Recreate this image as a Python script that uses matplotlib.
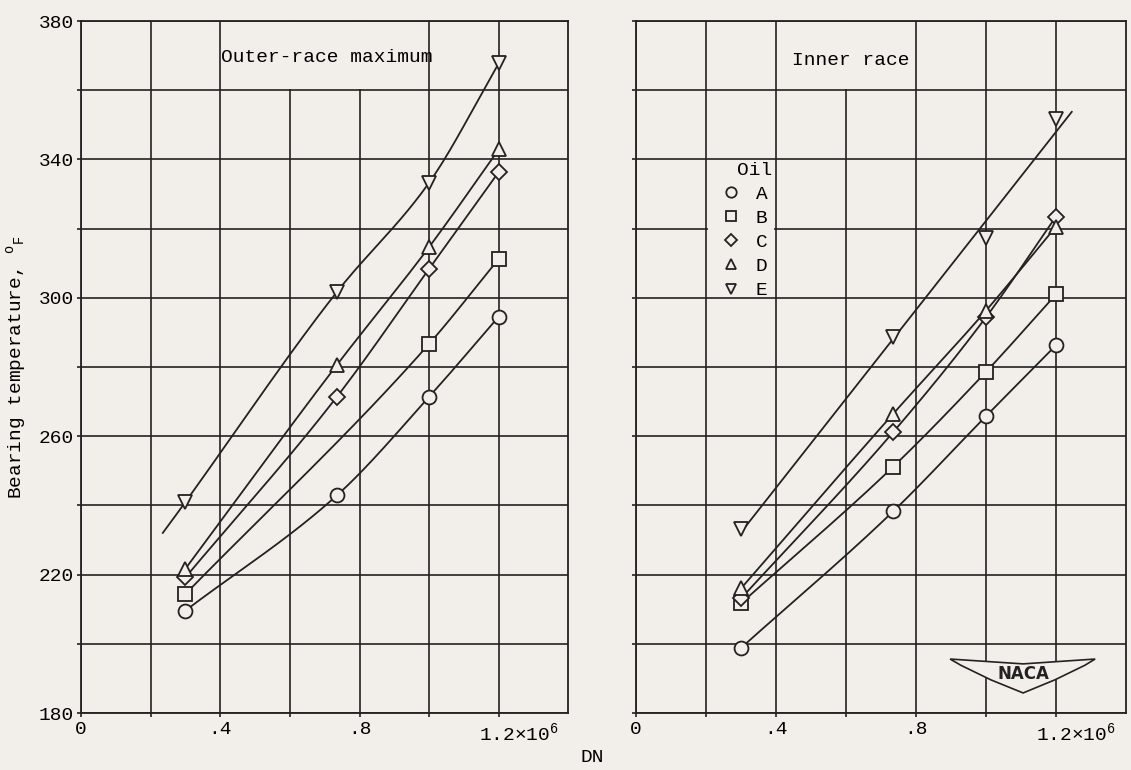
import numpy as np
import matplotlib.pyplot as plt
import matplotlib.transforms as mtransforms
from matplotlib.patches import Rectangle, Polygon

# typewriter look
plt.rcParams['font.family'] = ['Liberation Mono', 'DejaVu Sans Mono']
plt.rcParams['mathtext.fontset'] = 'custom'
plt.rcParams['mathtext.rm'] = 'Liberation Mono'
plt.rcParams['mathtext.it'] = 'Liberation Mono:italic'
plt.rcParams['font.size'] = 14

paper = '#f2efea'
ink = '#222222'

# DN values, x10^6
dn = [0.30, 0.735, 1.0, 1.2]
dn_outer_b = [0.30, 1.0, 1.2]

oils = ['A', 'B', 'C', 'D', 'E']
markers = ['o', 's', 'D', '^', 'v']
msizes = [10, 9.5, 8.5, 10, 10]

# outer-race maximum temperature, deg F
outer_a = [209.6, 242.9, 271.4, 294.6]
outer_b = [214.4, 286.7, 311.3]
outer_c = [219.2, 271.4, 308.4, 336.4]
outer_d = [221.7, 280.6, 314.7, 342.9]
outer_e = [241.0, 301.7, 333.3, 367.8]

# inner race temperature, deg F
inner_a = [198.8, 238.3, 265.8, 286.3]
inner_b = [211.7, 251.2, 278.6, 301.0]
inner_c = [213.1, 261.2, 294.4, 323.5]
inner_d = [216.0, 266.5, 296.3, 320.6]
inner_e = [233.1, 288.6, 317.3, 351.6]

# faired curves: extent, and whether the curve is a straight fit
outer_start = [0.30, 0.30, 0.30, 0.30, 0.235]
outer_end = [1.2, 1.2, 1.2, 1.2, 1.2]
outer_straight = [False, False, False, False, False]
inner_start = [0.30, 0.30, 0.30, 0.30, 0.30]
inner_end = [1.2, 1.2, 1.2, 1.2, 1.245]
inner_straight = [False, False, False, False, True]

x_ticks = [0, 0.4, 0.8, 1.2]
x_labels = ['0', '.4', '.8', r'1.2$\times$10$^6$']
y_ticks = [180, 220, 260, 300, 340, 380]


def faired(x, y, xx):
    # monotone cubic through the points (Fritsch-Carlson slopes)
    x = np.asarray(x, float)
    y = np.asarray(y, float)
    h = np.diff(x)
    s = np.diff(y) / h
    d = np.empty_like(x)
    d[0], d[-1] = s[0], s[-1]
    for i in range(1, len(x) - 1):
        w1 = 2 * h[i] + h[i - 1]
        w2 = h[i] + 2 * h[i - 1]
        d[i] = (w1 + w2) / (w1 / s[i - 1] + w2 / s[i])
    k = np.clip(np.searchsorted(x, xx) - 1, 0, len(x) - 2)
    t = (xx - x[k]) / h[k]
    h00 = 2 * t**3 - 3 * t**2 + 1
    h10 = t**3 - 2 * t**2 + t
    h01 = -2 * t**3 + 3 * t**2
    h11 = t**3 - t**2
    return h00 * y[k] + h10 * h[k] * d[k] + h01 * y[k + 1] + h11 * h[k] * d[k + 1]


fig = plt.figure(figsize=(11.31, 7.70), dpi=100, facecolor=paper)
ax1 = fig.add_axes([0.0716, 0.074, 0.431, 0.8987])
ax2 = fig.add_axes([0.5623, 0.074, 0.4333, 0.8987])


def draw_panel(ax, xs, ys, starts, ends, straight):
    for x, y, m, ms, s, e, st, lab in zip(xs, ys, markers, msizes, starts, ends,
                                           straight, oils):
        xx = np.linspace(s, e, 200)
        if st:
            yy = np.polyval(np.polyfit(x, y, 1), xx)
        else:
            yy = faired(x, y, xx)
        ax.plot(xx, yy, color=ink, lw=1.3, zorder=2)
        ax.plot(x, y, ls='none', marker=m, ms=ms, mfc=paper, mec=ink,
                mew=1.3, zorder=3, label=lab)


draw_panel(ax1, [dn, dn_outer_b, dn, dn, dn],
           [outer_a, outer_b, outer_c, outer_d, outer_e],
           outer_start, outer_end, outer_straight)
draw_panel(ax2, [dn, dn, dn, dn, dn],
           [inner_a, inner_b, inner_c, inner_d, inner_e],
           inner_start, inner_end, inner_straight)

for ax in (ax1, ax2):
    ax.set_facecolor(paper)
    ax.set_xlim(0, 1.4)
    ax.set_ylim(180, 380)
    ax.set_xticks(x_ticks, labels=x_labels)
    ax.set_xticks([0.2, 0.6, 1.0], minor=True)
    ax.set_yticks(y_ticks)
    ax.set_yticks([200, 240, 280, 320, 360], minor=True)
    ax.set_axisbelow(True)
    ax.grid(which='both', color=ink, lw=1.2)
    ax.tick_params(which='both', length=3, width=1.2, color=ink)
    ax.tick_params(axis='x', pad=3)
    ax.tick_params(axis='y', pad=2)
    for sp in ax.spines.values():
        sp.set_color(ink)
        sp.set_linewidth(1.3)
    lbl = ax.get_xticklabels()[-1]
    lbl.set_ha('left')
    lbl.set_transform(lbl.get_transform() +
                      mtransforms.ScaledTranslation(-0.20, 0, fig.dpi_scale_trans))

ax2.tick_params(axis='y', labelleft=False)

ax1.set_ylabel(r'Bearing temperature, $^{\mathrm{o}}{}_{\mathrm{F}}$', labelpad=8)
fig.text(0.524, 0.016, 'DN', ha='center', va='center')

# panel titles sit in blank cells of the top row
ax1.add_patch(Rectangle((0.405, 360.3), 0.59, 19.4, fc=paper, ec='none', zorder=1))
ax1.text(0.705, 369.6, 'Outer-race maximum', ha='center', va='center', zorder=4)
ax2.add_patch(Rectangle((0.405, 360.3), 0.39, 19.4, fc=paper, ec='none', zorder=1))
ax2.text(0.615, 368.7, 'Inner race', ha='center', va='center', zorder=4)

# key
ax2.add_patch(Rectangle((0.205, 300.3), 0.19, 39.4, fc=paper, ec='none', zorder=1))
ax2.legend(loc='center left', bbox_to_anchor=(0.2, 316.0),
           bbox_transform=ax2.transData, frameon=False, handletextpad=0.65,
           labelspacing=0.33, markerscale=0.75, borderpad=0.2,
           handlelength=1.2, fontsize=14)
ax2.text(0.339, 336.8, 'Oil', ha='center', va='center', zorder=4)

# NACA wing mark
wing = Polygon([(0.641, 0.078), (0.790, 0.071), (0.937, 0.078), (0.916, 0.069),
                (0.855, 0.048), (0.790, 0.029), (0.724, 0.048), (0.663, 0.069)],
               closed=True, transform=ax2.transAxes, fc=paper, ec=ink, lw=1.2, zorder=4)
ax2.add_patch(wing)
ax2.text(0.790, 0.057, 'NACA', transform=ax2.transAxes, ha='center', va='center',
         family='DejaVu Sans', weight='bold', fontsize=12, color=ink, zorder=5)

fig.savefig('out.png', dpi=100, facecolor=paper)
